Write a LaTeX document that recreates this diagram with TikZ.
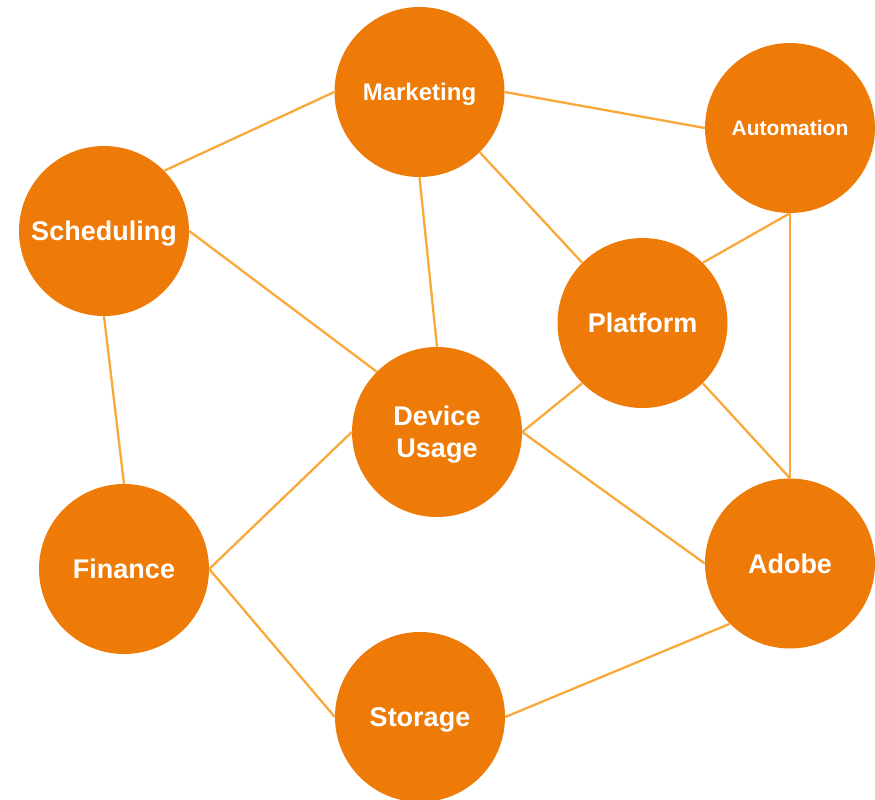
\documentclass[tikz,border=0pt]{standalone}
\usepackage{fontspec}
\setmainfont{Liberation Sans}
\definecolor{nodeor}{HTML}{EE7A07}
\definecolor{edgeor}{HTML}{F9A83A}
\begin{document}
\begin{tikzpicture}[x=1pt,y=-1pt,
  hub/.style={circle, fill=nodeor, minimum size=170pt, inner sep=0pt, text=white,
    text depth=0pt, font=\bfseries\fontsize{27}{32}\selectfont, align=center},
  link/.style={draw=edgeor, line width=2.3pt}]
\useasboundingbox (0,0) rectangle (875,800);
\node[hub, font=\bfseries\fontsize{24}{28}\selectfont] (mkt) at (419.5,92) {Marketing};
\node[hub, font=\bfseries\fontsize{21}{25}\selectfont] (aut) at (790,128) {Automation};
\node[hub] (sch) at (104,231) {Scheduling};
\node[hub] (plt) at (642.5,323) {Platform};
\node[hub] (dev) at (437,432) {Device\\Usage};
\node[hub] (fin) at (124,569) {Finance};
\node[hub] (ado) at (790,563.5) {Adobe};
\node[hub] (sto) at (420,717) {Storage};
\draw[link] (mkt.east) -- (aut.west);
\draw[link] (mkt.west) -- (sch.north east);
\draw[link] (mkt.south) -- (dev.north);
\draw[link] (mkt.south east) -- (plt.north west);
\draw[link] (aut.south) -- (plt.north east);
\draw[link] (aut.south) -- (ado.north);
\draw[link] (plt.south east) -- (ado.north);
\draw[link] (plt.south west) -- (dev.east);
\draw[link] (dev.east) -- (ado.west);
\draw[link] (sch.east) -- (dev.north west);
\draw[link] (sch.south) -- (fin.north);
\draw[link] (dev.west) -- (fin.east);
\draw[link] (fin.east) -- (sto.west);
\draw[link] (sto.east) -- (ado.south west);
\end{tikzpicture}
\end{document}
